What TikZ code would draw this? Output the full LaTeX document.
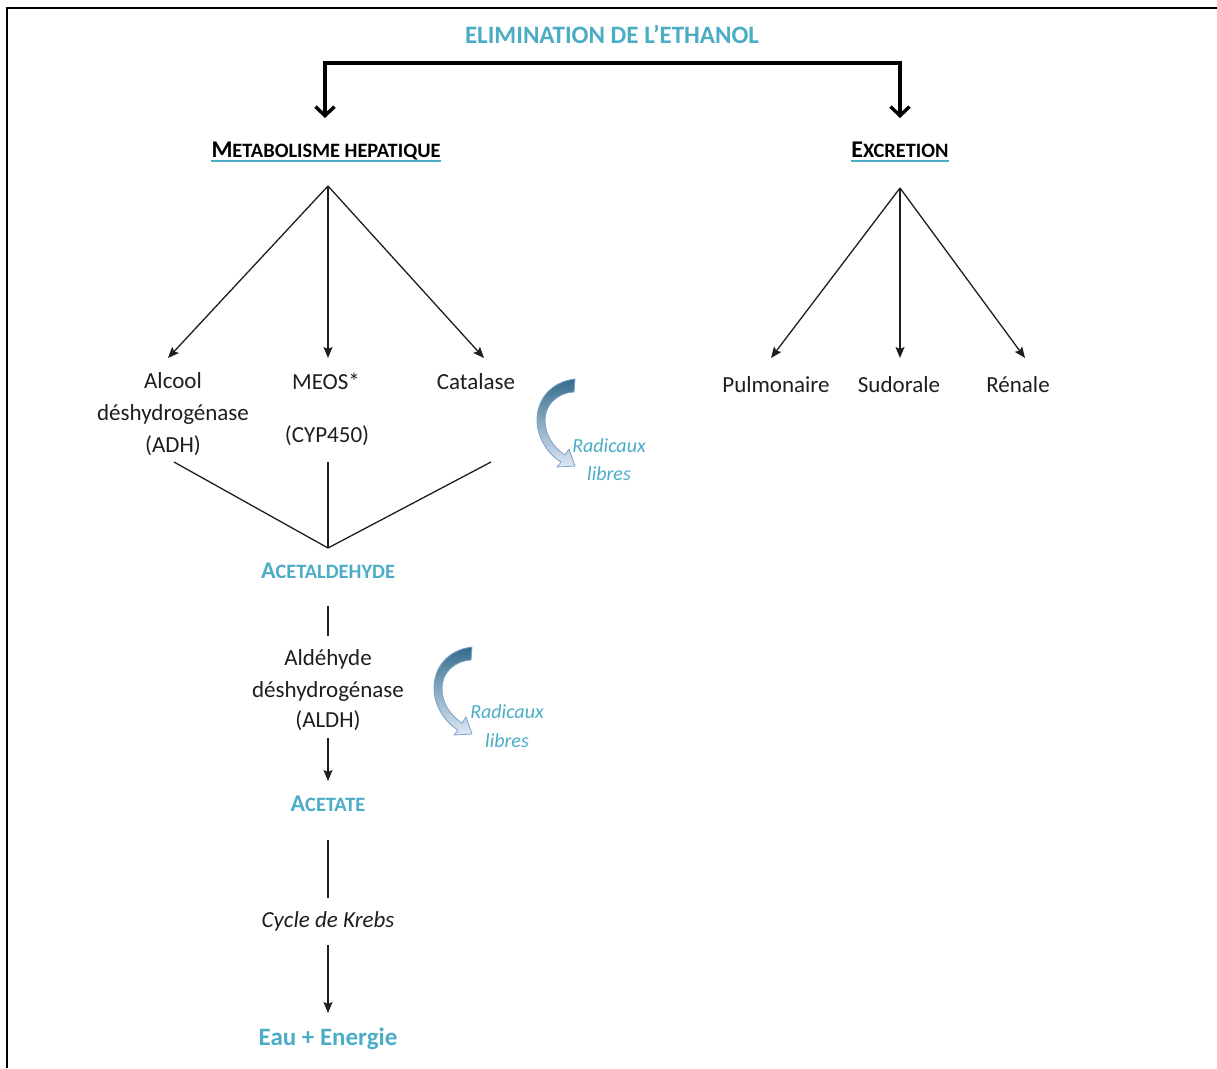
\documentclass[tikz,border=0pt]{standalone}
\usepackage{fontspec}
\setmainfont{Carlito}
\usetikzlibrary{arrows.meta}
\definecolor{accent}{RGB}{75,172,198}
\definecolor{swirldark}{RGB}{52,108,138}
\definecolor{swirllight}{RGB}{222,233,246}
\definecolor{swirledge}{RGB}{125,160,205}
\definecolor{ink}{RGB}{30,30,30}
% first letter full size, the rest in reduced capitals
\newcommand\petitcaps[2]{#1{\fontsize{20.4}{24}\selectfont #2}}

\begin{document}
\begin{tikzpicture}[x=1pt,y=-1pt,
  lbl/.style={inner sep=0pt, text height=14.7pt, text depth=0pt, text=ink,
    font=\fontsize{23}{28}\selectfont},
  ttl/.style={lbl, text height=15.5pt, text=accent, font=\bfseries\fontsize{25}{30}\selectfont},
  sub/.style={lbl, text=accent, font=\bfseries\fontsize{24}{28}\selectfont},
  hd/.style={lbl, text=black, font=\bfseries\fontsize{24}{28}\selectfont},
  krebs/.style={lbl, font=\itshape\fontsize{23}{28}\selectfont},
  rad/.style={inner sep=0pt, text height=12.8pt, text depth=0pt, text=accent,
    font=\itshape\fontsize{20}{24}\selectfont},
  uline/.style={accent, line width=1.6pt},
  bracket/.style={line width=3.4pt, line join=miter,
    {Straight Barb[length=9pt,width=19pt]}-{Straight Barb[length=9pt,width=19pt]}},
  branch/.style={ink, line width=1.3pt, -{Stealth[length=11pt,width=9pt,inset=2pt]}},
  link/.style={ink, line width=1.3pt},
  radical/.pic={
    \path[draw=swirledge, line width=0.8pt, top color=swirldark, bottom color=swirllight,
          line join=round]
      (0,0) .. controls (-25,3) and (-38,21) .. (-38,41)
      .. controls (-38,59) and (-27,75) .. (-14,83)
      -- (-18,88) -- (0,87) -- (-6,70) -- (-10,76)
      .. controls (-22,68) and (-30,56) .. (-30,41)
      .. controls (-30,26) and (-18,14) .. (-1,13) -- cycle;
  }
]
\useasboundingbox (0,0) rectangle (1217,1068);

% page frame
\draw[line width=2pt] (7,1068) |- (1217,8);

% titles
\node[ttl] (title) at (612,36) {ELIMINATION DE L’ETHANOL};
\node[hd] (metab) at (326,150) {\petitcaps{M}{ETABOLISME HEPATIQUE}};
\node[hd] (excr) at (900,150) {\petitcaps{E}{XCRETION}};
\draw[uline] ([yshift=-3.5pt]metab.south west) -- ([yshift=-3.5pt]metab.south east);
\draw[uline] ([yshift=-3.5pt]excr.south west) -- ([yshift=-3.5pt]excr.south east);

% split into the two routes
\coordinate (splitL) at (325,118);
\coordinate (splitM) at (612,63);
\coordinate (splitR) at (900,118);
\draw[bracket] (splitL) |- (splitM) -| (splitR);

% hepatic enzymes
\node[lbl] (adh1) at (173,381) {Alcool};
\node[lbl] (adh2) at (173,413) {déshydrogénase};
\node[lbl] (adh3) at (173,445) {(ADH)};
\node[lbl] (meos) at (326,382) {MEOS*};
\node[lbl] (cyp) at (327,435) {(CYP450)};
\node[lbl] (cat) at (476,382) {Catalase};

\coordinate (metabApex) at (328,186);
\coordinate (toADH) at (168,358);
\coordinate (toMEOS) at (328,358);
\coordinate (toCAT) at (484,358);
\draw[branch] (metabApex) -- (toADH);
\draw[branch] (metabApex) -- (toMEOS);
\draw[branch] (metabApex) -- (toCAT);

% excretion routes
\node[lbl] (pulm) at (776,385) {Pulmonaire};
\node[lbl] (sud) at (899,385) {Sudorale};
\node[lbl] (ren) at (1018,385) {Rénale};

\coordinate (excrApex) at (900,188);
\coordinate (toPulm) at (771,358);
\coordinate (toSud) at (900,358);
\coordinate (toRen) at (1025,358);
\draw[branch] (excrApex) -- (toPulm);
\draw[branch] (excrApex) -- (toSud);
\draw[branch] (excrApex) -- (toRen);

% convergence onto acetaldehyde
\coordinate (fromADH) at (174,462);
\coordinate (fromMEOS) at (328,462);
\coordinate (fromCAT) at (491,462);
\coordinate (merge) at (328,548);
\draw[link] (fromADH) -- (merge);
\draw[link] (fromMEOS) -- (merge);
\draw[link] (fromCAT) -- (merge);

\node[sub] (acetal) at (328,571) {\petitcaps{A}{CETALDEHYDE}};

% aldehyde dehydrogenase step
\coordinate (acetalOut) at (328,606);
\coordinate (aldhIn) at (328,636);
\draw[link] (acetalOut) -- (aldhIn);
\node[lbl] (aldh1) at (328,658) {Aldéhyde};
\node[lbl] (aldh2) at (328,690) {déshydrogénase};
\node[lbl] (aldh3) at (328,720) {(ALDH)};
\coordinate (aldhOut) at (328,738);
\coordinate (acetateIn) at (328,781);
\draw[branch] (aldhOut) -- (acetateIn);

\node[sub] (acetate) at (328,804) {\petitcaps{A}{CETATE}};

% Krebs cycle
\coordinate (acetateOut) at (328,840);
\coordinate (krebsIn) at (328,898);
\draw[link] (acetateOut) -- (krebsIn);
\node[krebs] (krebsnode) at (328,920) {Cycle de Krebs};
\coordinate (krebsOut) at (328,945);
\coordinate (eauIn) at (328,1013);
\draw[branch] (krebsOut) -- (eauIn);
\node[ttl] (eau) at (328,1038) {Eau + Energie};

% free radicals
\pic at (575,379) {radical};
\node[rad] (rad1) at (609,446) {Radicaux};
\node[rad] (lib1) at (609,474) {libres};
\pic at (472,647) {radical};
\node[rad] (rad2) at (507,712) {Radicaux};
\node[rad] (lib2) at (507,741) {libres};
\end{tikzpicture}
\end{document}
